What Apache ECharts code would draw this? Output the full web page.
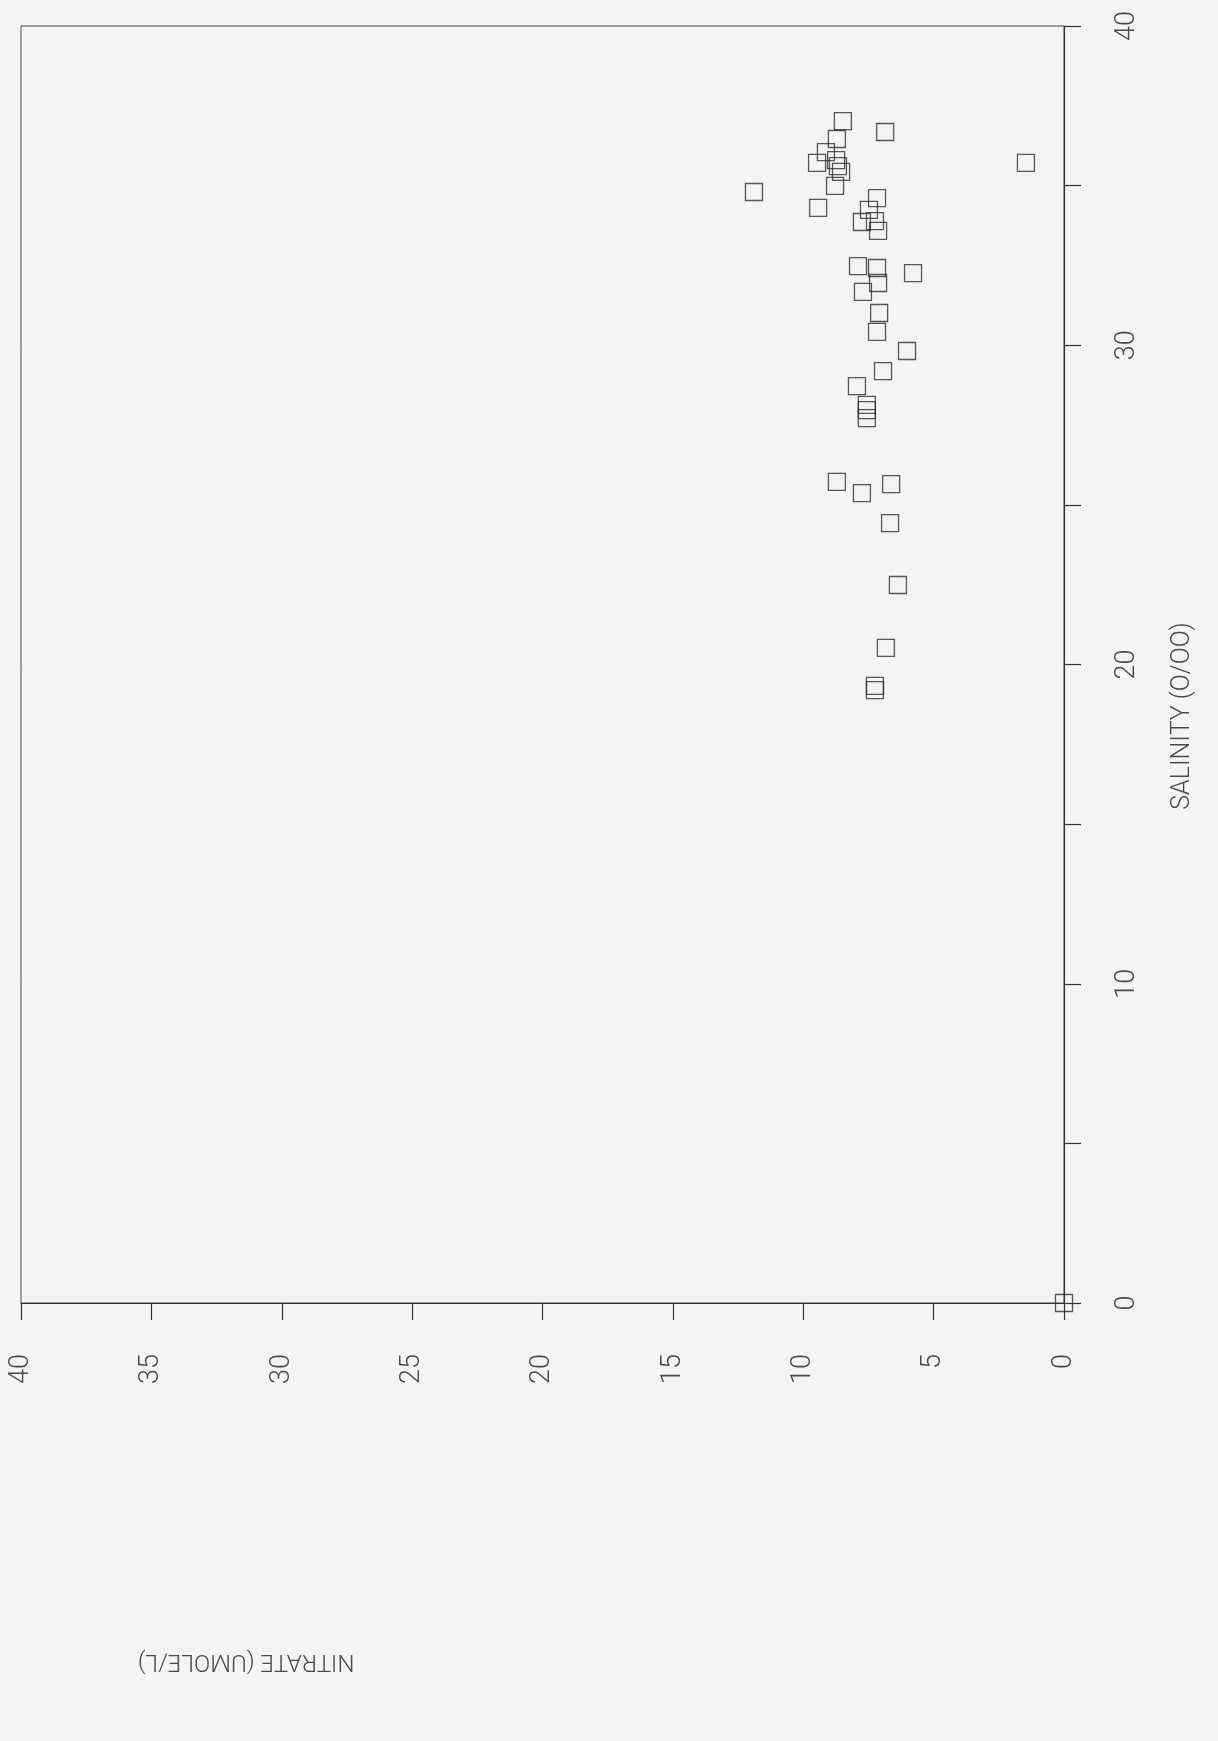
<!DOCTYPE html>
<html>
<head>
<meta charset="utf-8">
<script src="https://cdn.jsdelivr.net/npm/echarts@6/dist/echarts.min.js"></script>
<style>
  html, body { margin: 0; padding: 0; background: #f4f4f4; }
  #chart { width: 1218px; height: 1741px; }
</style>
</head>
<body>
<div id="chart"></div>
<script>
// Nitrate (umole/L) values, one per sample
const nitrate = [8.48, 8.71, 9.13, 9.47, 8.74, 8.55, 8.78, 8.67, 6.86, 1.46,
                 11.89, 9.43, 7.17, 7.48, 7.75, 7.25, 7.13, 7.90, 7.17, 5.79,
                 7.13, 7.71, 7.09, 7.17, 6.02, 6.94, 7.94, 7.56, 7.56, 7.56,
                 8.71, 7.75, 6.63, 6.67, 6.37, 6.83, 7.25, 7.25, 0.0];
// Salinity (o/oo) values, matching order
const salinity = [37.02, 36.46, 36.05, 35.71, 35.80, 35.43, 34.99, 35.61, 36.68, 35.71,
                  34.80, 34.30, 34.61, 34.24, 33.86, 33.89, 33.58, 32.48, 32.42, 32.26,
                  31.95, 31.67, 31.01, 30.42, 29.82, 29.19, 28.72, 28.13, 27.97, 27.72,
                  25.72, 25.37, 25.65, 24.43, 22.49, 20.52, 19.33, 19.20, 0.0];
const ticksNitrate = [0, 5, 10, 15, 20, 25, 30, 35, 40];
const ticksSalinity = [0, 5, 10, 15, 20, 25, 30, 35, 40];
const titleX = 'NITRATE (UMOLE/L)';
const titleY = 'SALINITY (O/OO)';

const points = nitrate.map((n, i) => [n, salinity[i]]);
const font = 'Roboto, "DejaVu Sans", sans-serif';
const ink = '#333333';

const chart = echarts.init(document.getElementById('chart'), null, { renderer: 'canvas' });
chart.setOption({
  backgroundColor: '#f4f4f4',
  animation: false,
  grid: {
    left: 21, right: 154, top: 26, bottom: 438,
    show: true, borderColor: '#4a4a4a', borderWidth: 1, backgroundColor: 'transparent'
  },
  xAxis: {
    type: 'value', min: ticksNitrate[0], max: ticksNitrate[ticksNitrate.length - 1],
    interval: 5, inverse: true, position: 'bottom',
    splitLine: { show: false },
    axisLine: { show: true, onZero: false, lineStyle: { color: ink, width: 1.2 } },
    axisTick: { show: true, inside: false, length: 17, lineStyle: { color: ink, width: 1.2 } },
    axisLabel: {
      rotate: 90, margin: 51, fontSize: 27, fontFamily: font, fontWeight: 300,
      color: '#4a4a4a', showMinLabel: true, showMaxLabel: true
    }
  },
  yAxis: {
    type: 'value', min: ticksSalinity[0], max: ticksSalinity[ticksSalinity.length - 1],
    interval: 10, position: 'right',
    splitLine: { show: false },
    axisLine: { show: true, onZero: false, lineStyle: { color: ink, width: 1.2 } },
    axisTick: { show: true, inside: false, length: 17, interval: 0, lineStyle: { color: ink, width: 1.2 } },
    minorTick: { show: true, splitNumber: 2, length: 17, lineStyle: { color: ink, width: 1.2 } },
    axisLabel: {
      rotate: 90, margin: 50, fontSize: 27, fontFamily: font, fontWeight: 300,
      color: '#4a4a4a', showMinLabel: true, showMaxLabel: true
    }
  },
  graphic: [
    {
      type: 'text', x: 1183, y: 716, rotation: Math.PI / 2,
      style: { text: titleY, fontSize: 25, fontFamily: font, fontWeight: 300, fill: '#4a4a4a',
               align: 'center', verticalAlign: 'middle' }
    },
    {
      type: 'text', x: 246, y: 1661, rotation: Math.PI,
      style: { text: titleX, fontSize: 24, fontFamily: font, fontWeight: 300, fill: '#4a4a4a',
               align: 'center', verticalAlign: 'middle' }
    }
  ],
  series: [{
    type: 'scatter',
    data: points,
    symbol: 'rect',
    symbolSize: 17,
    itemStyle: { color: 'rgba(0,0,0,0)', borderColor: '#2e2e2e', borderWidth: 1.3 },
    emphasis: { disabled: true }
  }]
});
</script>
</body>
</html>
